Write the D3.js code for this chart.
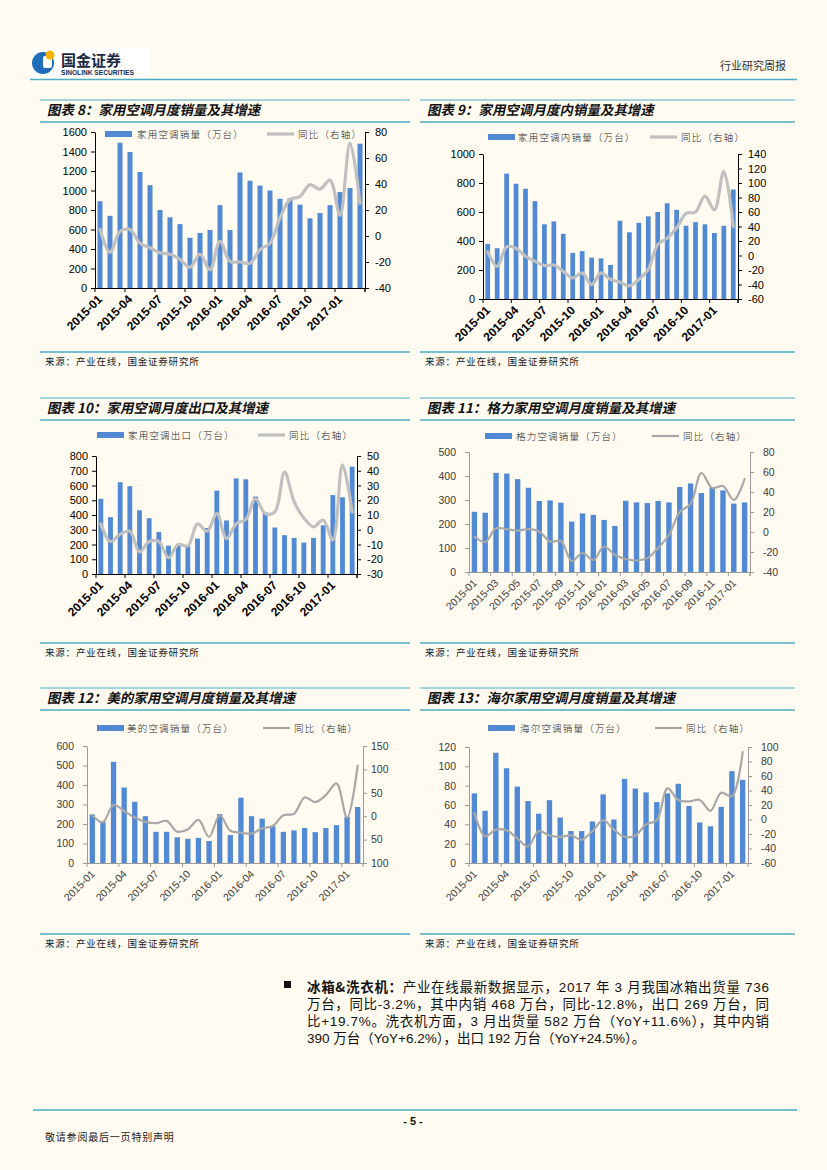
<!DOCTYPE html>
<html><head><meta charset="utf-8">
<script src="https://cdn.jsdelivr.net/npm/d3@7"></script>
<style>
body{margin:0;background:#fffbf0;}
svg{display:block;}
text{font-family:"Liberation Sans","Noto Sans CJK SC",sans-serif;}
</style>
</head><body>
<svg id="page" width="827" height="1170"></svg>
<script>
// ---------------- DATA ----------------
const months = ["2015-01","2015-02","2015-03","2015-04","2015-05","2015-06","2015-07","2015-08","2015-09","2015-10","2015-11","2015-12",
  "2016-01","2016-02","2016-03","2016-04","2016-05","2016-06","2016-07","2016-08","2016-09","2016-10","2016-11","2016-12",
  "2017-01","2017-02","2017-03"];
const months26 = months.slice(0, 26);

const c8Sales = [890,740,1490,1395,1190,1055,800,725,655,515,565,595,850,595,1185,1100,1050,1000,915,920,855,715,770,850,985,1025,1480];
const c8Yoy   = [5,-12.5,3.5,5,-5.5,-9,-13,-14,-18,-24,-14,-26,-4,-19.5,-20,-21,-10.5,-5.5,14,28,30.5,39.5,36,43,16,71.5,25];

const c9Sales = [380,350,865,795,760,675,515,535,450,318,330,285,280,235,540,460,525,570,600,660,615,505,530,515,455,505,755];
const c9Yoy   = [5,-15,12,10,-1,-8,-14,-13,-22,-31,-24,-40,-24,-33,-37,-42,-33,-19,15,24,38,58,60,82,63,116,40];

const c10Export = [510,385,622,595,432,378,285,192,196,193,240,312,565,363,648,642,525,420,315,263,245,213,245,330,535,520,728];
const c10Yoy    = [4,-8,-3,-1,-15,-8,-8,-19,-10,-11,4,-1,11,-6,4,7,21,11,12,39,19,8,2,6.5,-7,44,12];

const c11Sales = [251,247,413,410,387,351,296,298,289,210,244,238,217,192,297,290,287,296,290,354,369,329,352,340,285,290];
const c11Yoy   = [-4.5,-10,3.7,2.8,1.4,2.8,0.4,-9.5,-9,-29,-21,-28,-14.5,-23,-27,-28.5,-26,-16,-3,20,28,59,44,46,32,53];

const c12Sales = [249,211,519,387,314,240,160,160,132,124,129,113,251,143,335,240,227,189,160,167,179,158,179,194,237,287];
const c12Yoy   = [2,-13,24,11,-3,-12,-15,-10,-33,-28,-8,-44,2,-31,-35,-37,-26,-21,2,5,40,30,45,70,-3,108];

const c13Sales = [72,54,114,98,79,64,51,65,47,33,33,43,71,45,87,77,73,63,72,82,59,42,38,58,95,86];
const c13Yoy   = [9,-23,-14,-15,-26,-37,-16,-22,-24,-22,-28,-16,-1,-14,-24,-22,-7,-1,43,27,25,27,12,37,32,93];

const titles = ["图表 8：家用空调月度销量及其增速","图表 9：家用空调月度内销量及其增速","图表 10：家用空调月度出口及其增速",
  "图表 11：格力家用空调月度销量及其增速","图表 12：美的家用空调月度销量及其增速","图表 13：海尔家用空调月度销量及其增速"];
const barNames = ["家用空调销量（万台）","家用空调内销量（万台）","家用空调出口（万台）","格力空调销量（万台）","美的空调销量（万台）","海尔空调销量（万台）"];
const lineName = "同比（右轴）";
const sourceText = "来源：产业在线，国金证券研究所";

const paraLines = [
  "产业在线最新数据显示，2017 年 3 月我国冰箱出货量 736",
  "万台，同比-3.2%，其中内销 468 万台，同比-12.8%，出口 269 万台，同",
  "比+19.7%。洗衣机方面，3 月出货量 582 万台（YoY+11.6%），其中内销",
  "390 万台（YoY+6.2%），出口 192 万台（YoY+24.5%）。"
];

// ---------------- DRAW ----------------
const svg = d3.select("#page");
const BLUE = "#4bacc6";
const BAR = "#5189d4";

svg.append("rect").attr("width",827).attr("height",1170).attr("fill","#fffbf0");

// header
svg.append("rect").attr("x",32).attr("y",47).attr("width",118).attr("height",31).attr("fill","#ffffff");
svg.append("circle").attr("cx",43).attr("cy",63).attr("r",11).attr("fill","#1f6cb8");
svg.append("rect").attr("x",43).attr("y",56).attr("width",9).attr("height",12).attr("rx",2).attr("fill","#ffffff");
svg.append("circle").attr("cx",50).attr("cy",55).attr("r",4.5).attr("fill","#f4b400");
svg.append("text").attr("x",61).attr("y",66).attr("font-size",15).attr("font-weight",700).attr("fill","#1a2a44")
  .style("font-family","'Noto Sans CJK SC'").text("国金证券");
svg.append("text").attr("x",61).attr("y",74.5).attr("font-size",6.6).attr("font-weight",700).attr("fill","#1a2a44").text("SINOLINK SECURITIES");
svg.append("text").attr("x",786).attr("y",70).attr("text-anchor","end").attr("font-size",11).attr("fill","#333")
  .style("font-family","'Noto Sans CJK SC'").text("行业研究周报");
svg.append("line").attr("x1",30).attr("x2",797).attr("y1",79.5).attr("y2",79.5).attr("stroke",BLUE).attr("stroke-width",1.5);

function drawChart(cfg){
  const g = svg.append("g");
  const dark = cfg.style === "dark";
  const axisCol = dark ? "#000" : "#9a9a9a";
  const txtCol = dark ? "#000" : "#3a3a3a";
  const lineCol = dark ? "#c0c0c0" : "#a8a8a8";
  const lineW = dark ? 3.2 : 2.2;

  // title block
  g.append("line").attr("x1",cfg.colL).attr("x2",cfg.colR).attr("y1",cfg.rowTop).attr("y2",cfg.rowTop).attr("stroke",BLUE).attr("stroke-width",1.2);
  g.append("text").attr("transform",`translate(${cfg.colL+7},${cfg.rowTop+15}) skewX(-12)`).attr("font-size",13.5).attr("font-weight",700)
    .attr("fill","#111").style("font-family","'Noto Sans CJK SC'").text(cfg.title);
  g.append("line").attr("x1",cfg.colL).attr("x2",cfg.colR).attr("y1",cfg.rowTop+22).attr("y2",cfg.rowTop+22).attr("stroke",BLUE).attr("stroke-width",1.5);
  // source
  g.append("line").attr("x1",cfg.colL).attr("x2",cfg.colR).attr("y1",cfg.srcY).attr("y2",cfg.srcY).attr("stroke",BLUE).attr("stroke-width",1.5);
  g.append("text").attr("x",cfg.colL+5).attr("y",cfg.srcY+13).attr("font-size",9.5).attr("fill","#222")
    .attr("letter-spacing",0.8).style("font-family","'Noto Sans CJK SC'").text(sourceText);

  const n = cfg.cats.length;
  const x = d3.scaleBand().domain(cfg.cats).range([cfg.l,cfg.r]).paddingInner(0.5).paddingOuter(0.25);
  const step = x.step();
  const yL = d3.scaleLinear().domain(cfg.yL).range([cfg.b,cfg.t]);
  const yR = d3.scaleLinear().domain(cfg.yR).range([cfg.b,cfg.t]);

  // bars
  g.append("g").selectAll("rect").data(cfg.bars).join("rect")
    .attr("x",(d,i)=>x(cfg.cats[i])).attr("width",x.bandwidth())
    .attr("y",d=>yL(d)).attr("height",d=>yL(0)-yL(d)).attr("fill",BAR);

  // line
  const line = d3.line().x((d,i)=>x(cfg.cats[i])+x.bandwidth()/2).y(d=>yR(d)).curve(d3.curveCatmullRom.alpha(0.5));
  g.append("path").datum(cfg.yoy).attr("d",line).attr("fill","none").attr("stroke",lineCol)
    .attr("stroke-width",lineW).attr("stroke-linejoin","round").attr("stroke-linecap","round");

  // axes
  const fs = cfg.tickFs;
  const ax = d3.axisLeft(yL).tickValues(d3.range(cfg.yL[0],cfg.yL[1]+1e-9,cfg.yLStep)).tickSize(4).tickSizeOuter(0).tickPadding(cfg.padL)
    .tickFormat(d=>String(d));
  const ga = g.append("g").attr("transform",`translate(${cfg.l},0)`).call(ax);
  const ar = d3.axisRight(yR).tickValues(d3.range(cfg.yR[0],cfg.yR[1]+1e-9,cfg.yRStep)).tickSize(4).tickSizeOuter(0).tickPadding(cfg.padR)
    .tickFormat(cfg.rFmt || (d=>String(d)));
  const gr = g.append("g").attr("transform",`translate(${cfg.r},0)`).call(ar);
  [ga,gr].forEach(a=>{
    a.select(".domain").attr("stroke",axisCol);
    a.selectAll(".tick line").attr("stroke",axisCol);
    a.selectAll(".tick text").attr("fill",txtCol).attr("font-size",fs).style("font-family","'Liberation Sans'");
  });

  // bottom axis
  g.append("line").attr("x1",cfg.l).attr("x2",cfg.r).attr("y1",cfg.b+0.5).attr("y2",cfg.b+0.5).attr("stroke",axisCol);
  for(let i=0;i<=n;i+=cfg.every){
    const xx = cfg.l + i*step;
    g.append("line").attr("x1",xx).attr("x2",xx).attr("y1",cfg.b).attr("y2",cfg.b+4).attr("stroke",axisCol);
  }
  g.append("line").attr("x1",cfg.r).attr("x2",cfg.r).attr("y1",cfg.b).attr("y2",cfg.b+4).attr("stroke",axisCol);
  for(let i=0;i<n;i+=cfg.every){
    const xx = cfg.l + i*step + cfg.lblDx;
    g.append("text").attr("transform",`translate(${xx},${cfg.b+cfg.lblDy}) rotate(-45)`)
      .attr("text-anchor","end").attr("dy","0.35em").attr("font-size",cfg.xFs).attr("fill",txtCol)
      .attr("font-weight",dark?700:400).style("font-family","'Liberation Sans'").text(cfg.cats[i]);
  }

  // legend
  const lg = cfg.legend;
  g.append("rect").attr("x",lg.rx).attr("y",lg.y-3).attr("width",27).attr("height",6).attr("fill",BAR);
  g.append("text").attr("x",lg.tx).attr("y",lg.y+3.5).attr("font-size",9.5).attr("letter-spacing",1.2).attr("fill","#222")
    .style("font-family","'Noto Sans CJK SC'").style("font-weight",300).text(cfg.barName);
  g.append("line").attr("x1",lg.lx).attr("x2",lg.lx+27).attr("y1",lg.y).attr("y2",lg.y).attr("stroke",lineCol).attr("stroke-width",lineW);
  g.append("text").attr("x",lg.lx+31).attr("y",lg.y+3.5).attr("font-size",9.5).attr("letter-spacing",1.2).attr("fill","#222")
    .style("font-family","'Noto Sans CJK SC'").style("font-weight",300).text(lineName);
}

const LC = [40,410], RC = [420,795];
drawChart({style:"dark",colL:LC[0],colR:LC[1],rowTop:100,srcY:352,title:titles[0],barName:barNames[0],
  cats:months,bars:c8Sales,yoy:c8Yoy,l:95,r:365,t:132,b:288,yL:[0,1600],yLStep:200,yR:[-40,80],yRStep:20,
  every:3,tickFs:11,xFs:12,padL:4,padR:6,lblDx:5,lblDy:9,legend:{rx:105,tx:137,lx:267,y:134}});
drawChart({style:"dark",colL:RC[0],colR:RC[1],rowTop:100,srcY:352,title:titles[1],barName:barNames[1],
  cats:months,bars:c9Sales,yoy:c9Yoy,l:483,r:738,t:154,b:299,yL:[0,1000],yLStep:200,yR:[-60,140],yRStep:20,
  every:3,tickFs:11,xFs:12,padL:4,padR:6,lblDx:5,lblDy:9,legend:{rx:488,tx:518,lx:650,y:137}});
drawChart({style:"dark",colL:LC[0],colR:LC[1],rowTop:398,srcY:643,title:titles[2],barName:barNames[2],
  cats:months,bars:c10Export,yoy:c10Yoy,l:96,r:357,t:456,b:574,yL:[0,800],yLStep:100,yR:[-30,50],yRStep:10,
  every:3,tickFs:11,xFs:12,padL:4,padR:6,lblDx:5,lblDy:9,legend:{rx:97,tx:128,lx:258,y:435}});
drawChart({style:"light",colL:RC[0],colR:RC[1],rowTop:398,srcY:643,title:titles[3],barName:barNames[3],
  cats:months26,bars:c11Sales,yoy:c11Yoy,l:469,r:750,t:452,b:572,yL:[0,500],yLStep:100,yR:[-40,80],yRStep:20,
  every:2,tickFs:10.5,xFs:10.5,padL:9,padR:9,lblDx:6,lblDy:9,legend:{rx:485,tx:516,lx:652,y:436}});
drawChart({style:"light",colL:LC[0],colR:LC[1],rowTop:688,srcY:934,title:titles[4],barName:barNames[4],
  cats:months26,bars:c12Sales,yoy:c12Yoy,l:87,r:363,t:746,b:863,yL:[0,600],yLStep:100,yR:[-100,150],yRStep:50,
  rFmt:d=>String(Math.abs(d)),
  every:3,tickFs:10.5,xFs:10.5,padL:9,padR:4,lblDx:6,lblDy:9,legend:{rx:97,tx:127,lx:263,y:728}});
drawChart({style:"light",colL:RC[0],colR:RC[1],rowTop:688,srcY:934,title:titles[5],barName:barNames[5],
  cats:months26,bars:c13Sales,yoy:c13Yoy,l:469,r:748,t:747,b:863,yL:[0,120],yLStep:20,yR:[-60,100],yRStep:20,
  every:3,tickFs:10.5,xFs:10.5,padL:9,padR:9,lblDx:6,lblDy:9,legend:{rx:488,tx:520,lx:655,y:728}});

// paragraph
svg.append("rect").attr("x",284).attr("y",981).attr("width",7).attr("height",7).attr("fill","#111");
const pY = [992,1009,1026,1043];
paraLines.forEach((s,i)=>{
  const t = svg.append("text").attr("x",307).attr("y",pY[i]).attr("font-size",13.5).attr("fill","#111");
  if(i===0){
    t.append("tspan").attr("font-weight",700).style("font-family","'Noto Sans CJK SC'").text("冰箱&洗衣机：");
    t.append("tspan").text(s);
  } else t.text(s);
  if(i<3) t.attr("textLength",462).attr("lengthAdjust","spacing");
});

// footer
svg.append("line").attr("x1",33).attr("x2",797).attr("y1",1110).attr("y2",1110).attr("stroke",BLUE).attr("stroke-width",1.5);
svg.append("text").attr("x",413).attr("y",1125).attr("text-anchor","middle").attr("font-size",11).attr("font-weight",700).attr("fill","#111").text("- 5 -");
svg.append("text").attr("x",45).attr("y",1141).attr("font-size",10).attr("letter-spacing",0.8).attr("fill","#222")
  .style("font-family","'Noto Sans CJK SC'").text("敬请参阅最后一页特别声明");
</script>
</body></html>
